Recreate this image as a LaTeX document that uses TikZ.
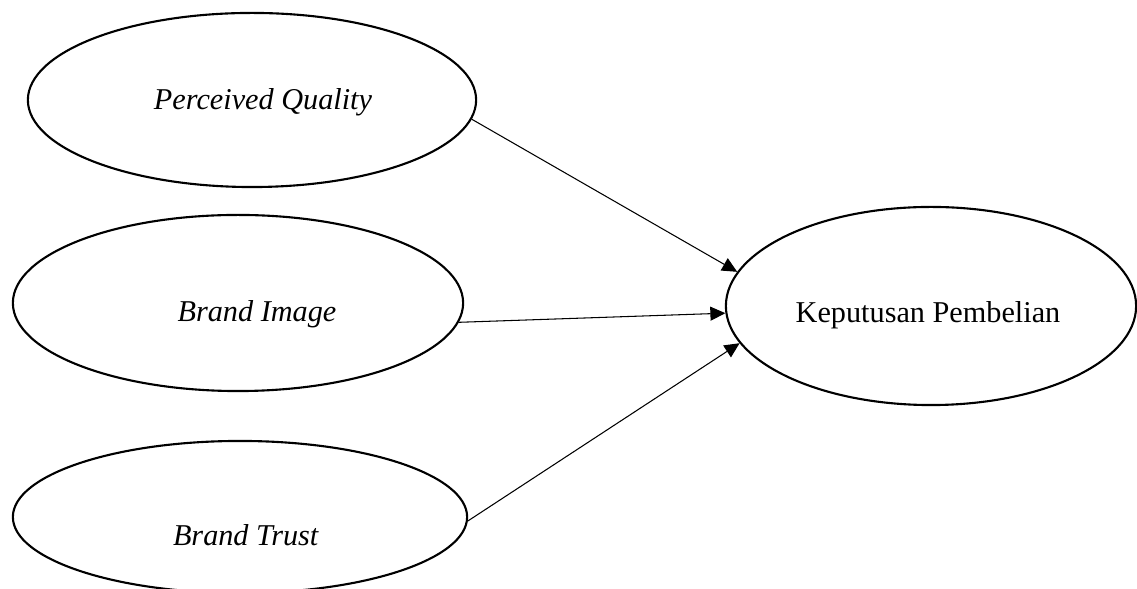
\documentclass[tikz,border=0pt]{standalone}
\usepackage{fontspec}
\setmainfont{Liberation Serif}
\usetikzlibrary{calc, shapes, arrows.meta}

\begin{document}
\begin{tikzpicture}[x=0.01cm, y=-0.01cm,
	latentvar/.style={draw, ellipse, line width=0.6pt, inner sep=0pt},
	linkarrow/.style={line width=0.3pt, -{Triangle[length=0.15cm, width=0.14cm]}}]
\newcommand{\myfontlabel}[1]{
\fontsize{8.6}{10}\selectfont{#1}
}%Frame of the picture
\useasboundingbox (0,0) rectangle (1137,589);
%Centres of the ellipses
\coordinate (cpq) at (252,100);
\coordinate (cbi) at (238,303);
\coordinate (cbt) at (240,517);
\coordinate (ckp) at (931,306);
%Ellipses
\node [latentvar, minimum width=4.48cm, minimum height=1.74cm] (pq) at (cpq) {};
\node [latentvar, minimum width=4.50cm, minimum height=1.76cm] (bi) at (cbi) {};
\node [latentvar, minimum width=4.54cm, minimum height=1.52cm] (bt) at (cbt) {};
\node [latentvar, minimum width=4.10cm, minimum height=1.98cm] (kp) at (ckp) {};
%Texts in the ellipses
\coordinate (tpq) at (263,110);
\coordinate (tbi) at (257,322);
\coordinate (tbt) at (246,546);
\coordinate (tkp) at (928,323);
\node [anchor=base] (pqtext) at (tpq) {\myfontlabel{\textit{Perceived Quality}}};
\node [anchor=base] (bitext) at (tbi) {\myfontlabel{\textit{Brand Image}}};
\node [anchor=base] (bttext) at (tbt) {\myfontlabel{\textit{Brand Trust}}};
\node [anchor=base] (kptext) at (tkp) {\myfontlabel{Keputusan Pembelian}};
%Arrows to the dependent variable
\draw [linkarrow] (pq.-5.4) -- (kp.170.3);
\draw [linkarrow] (bi.-5.2) -- (kp.182.2);
\draw [linkarrow] (bt.-1.5) -- (kp.191.9);
\end{tikzpicture}
\end{document}
